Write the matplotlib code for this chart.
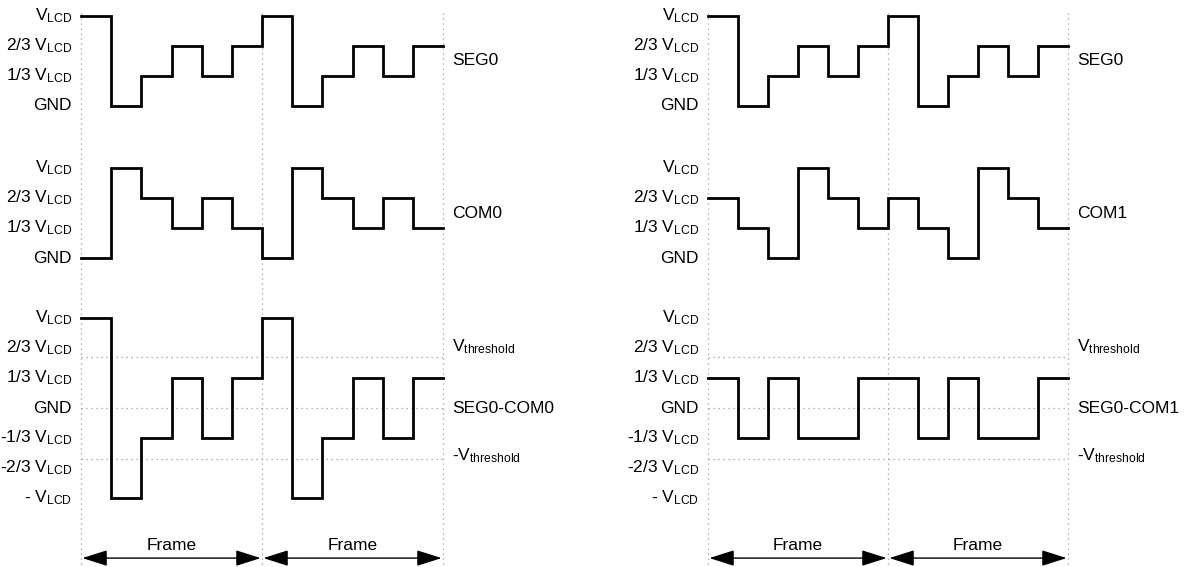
import numpy as np
import matplotlib
matplotlib.use("Agg")
import matplotlib.pyplot as plt

plt.rcParams['font.family'] = ['Liberation Sans', 'DejaVu Sans']
plt.rcParams['mathtext.fontset'] = 'custom'
plt.rcParams['mathtext.rm'] = 'Liberation Sans'
plt.rcParams['mathtext.it'] = 'Liberation Sans'

# levels in units of 1/3 VLCD, one value per time slot (12 slots = 2 frames)
seg0 = [3, 0, 1, 2, 1, 2, 3, 0, 1, 2, 1, 2]
com0 = [0, 3, 2, 1, 2, 1, 0, 3, 2, 1, 2, 1]
com1 = [2, 1, 0, 3, 2, 1, 2, 1, 0, 3, 2, 1]
threshold = 1.7  # in 1/3 VLCD units

v = r'V$_\mathregular{LCD}$'
labels_pos = [v, '2/3 ' + v, '1/3 ' + v, 'GND']
labels_diff = [v, '2/3 ' + v, '1/3 ' + v, 'GND',
               '-1/3 ' + v, '-2/3 ' + v, '- ' + v]
levels_pos = [3, 2, 1, 0]
levels_diff = [3, 2, 1, 0, -1, -2, -3]

# vertical offsets (GND line) for each trace
off_seg, off_com, off_diff = 0.0, -5.07, -10.07
arrow_y, frame_y = -15.07, -14.65
fs = 12.5

fig = plt.figure(figsize=(11.95, 5.67), dpi=100)

dot = dict(color='#9a9a9a', lw=0.9, ls=(0, (1, 3)))


def panel(left, width, com, com_name):
    ax = fig.add_axes([left / 1195, 0, width / 1195, 1])
    ax.set_xlim(0, 12)
    ax.set_ylim(-15.367, 3.533)
    ax.axis('off')

    diff = list(np.array(seg0) - np.array(com))
    x = np.arange(13)

    # grid lines
    for xv in [0, 6, 12]:
        ax.plot([xv, xv], [3.1, -15.367], **dot, clip_on=False)
    for yv in [threshold, 0, -threshold]:
        ax.plot([0, 12], [off_diff + yv] * 2, **dot)

    for data, off, name in [(seg0, off_seg, 'SEG0'),
                            (com, off_com, com_name),
                            (diff, off_diff, 'SEG0-' + com_name)]:
        ys = np.array(data + [data[-1]]) + off
        ax.step(x, ys, where='post', color='black', lw=2.0,
                solid_joinstyle='miter', clip_on=False)
        labs, levs = (labels_diff, levels_diff) if name.startswith('SEG0-') \
            else (labels_pos, levels_pos)
        for lab, lv in zip(labs, levs):
            ax.text(-0.3, off + lv, lab, ha='right', va='center',
                    fontsize=fs, clip_on=False)

    ax.text(12.3, off_seg + 1.5, 'SEG0', ha='left', va='center', fontsize=fs)
    ax.text(12.3, off_com + 1.5, com_name, ha='left', va='center', fontsize=fs)
    ax.text(12.3, off_diff, 'SEG0-' + com_name, ha='left', va='center',
            fontsize=fs)
    ax.text(12.3, off_diff + 2.05, r'V$_\mathregular{threshold}$',
            ha='left', va='center', fontsize=fs)
    ax.text(12.3, off_diff - 1.6, r'-V$_\mathregular{threshold}$',
            ha='left', va='center', fontsize=fs)

    for a, b in [(0, 6), (6, 12)]:
        ax.annotate('', xy=(b, arrow_y), xytext=(a, arrow_y),
                    arrowprops=dict(arrowstyle='<|-|>,head_length=1.1,head_width=0.35',
                                    color='black', lw=1.0,
                                    shrinkA=1, shrinkB=1, mutation_scale=14),
                    annotation_clip=False)
        ax.text((a + b) / 2, frame_y, 'Frame', ha='center', va='center',
                fontsize=fs)


panel(81, 362, com0, 'COM0')
panel(708, 360, com1, 'COM1')

fig.savefig('out.png', dpi=100)
